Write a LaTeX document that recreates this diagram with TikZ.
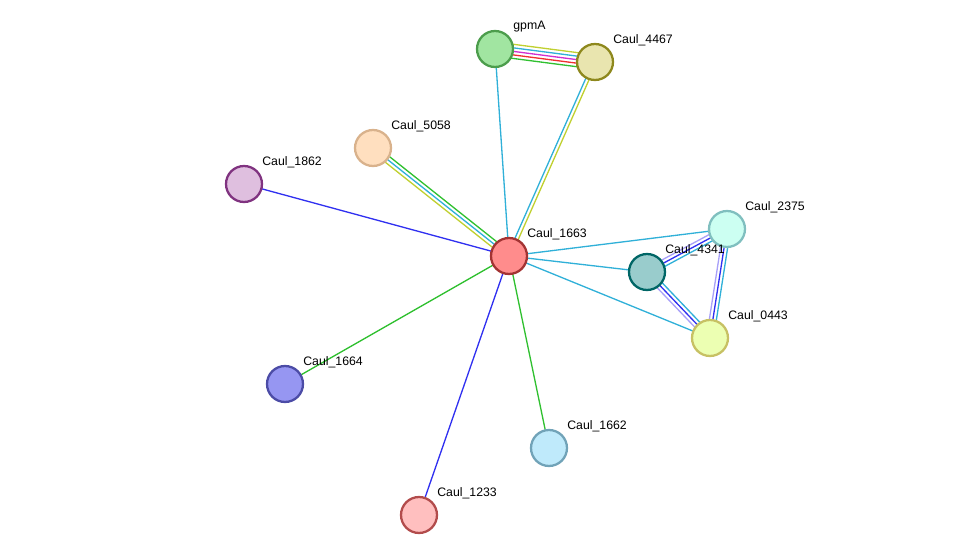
\documentclass[tikz,border=0pt]{standalone}
\usepackage{fontspec}
\setmainfont{Liberation Sans}
\usetikzlibrary{calc}
\definecolor{ecyan}{HTML}{30B0D8}
\definecolor{eblue}{HTML}{3030F0}
\definecolor{egreen}{HTML}{30C030}
\definecolor{eyellow}{HTML}{C0D030}
\definecolor{ered}{HTML}{F03030}
\definecolor{emag}{HTML}{D030D0}
\definecolor{elav}{HTML}{A8A0F8}
\newcommand{\protnode}[5]{%
  \node[prot, fill=#4, draw=#5] (#1) at (#2) {};
  \node[lbl] at ($(#1)+(18,-22)$) {#3};}
\newcommand{\multiedge}[3]{%
  \foreach \o/\c in {#3}
    \draw[\c, line width=0.75pt] ($(#1)!\o pt!90:(#2)$) -- ($(#2)!\o pt!-90:(#1)$);}
\begin{document}
\begin{tikzpicture}[x=0.02cm, y=-0.02cm,
    prot/.style={circle, minimum size=0.72cm, line width=1.3pt, inner sep=0pt},
    lbl/.style={anchor=west, font=\fontsize{7}{8}\selectfont, inner sep=0pt}]
  \useasboundingbox (0,0) rectangle (975,560);
  % node positions
  \coordinate (p_gpmA) at (495,49);
  \coordinate (p_4467) at (595,62);
  \coordinate (p_5058) at (373,148);
  \coordinate (p_1862) at (244,184);
  \coordinate (p_1663) at (509,256);
  \coordinate (p_2375) at (727,229);
  \coordinate (p_4341) at (647,272);
  \coordinate (p_0443) at (710,338);
  \coordinate (p_1664) at (285,384);
  \coordinate (p_1662) at (549,448);
  \coordinate (p_1233) at (419,515);

  % edges
  \multiedge{p_gpmA}{p_4467}{-4/egreen, -2/ered, 0/emag, 2/ecyan, 4/eyellow}
  \multiedge{p_gpmA}{p_1663}{0/ecyan}
  \multiedge{p_4467}{p_1663}{-1/ecyan, 1/eyellow}
  \multiedge{p_5058}{p_1663}{-2/eyellow, 0/ecyan, 2/egreen}
  \multiedge{p_1862}{p_1663}{0/eblue}
  \multiedge{p_1664}{p_1663}{0/egreen}
  \multiedge{p_1233}{p_1663}{0/eblue}
  \multiedge{p_1662}{p_1663}{0/egreen}
  \multiedge{p_2375}{p_1663}{0/ecyan}
  \multiedge{p_4341}{p_1663}{0/ecyan}
  \multiedge{p_0443}{p_1663}{0/ecyan}
  \multiedge{p_4341}{p_2375}{-2/ecyan, 0/eblue, 2/elav}
  \multiedge{p_4341}{p_0443}{-2/elav, 0/eblue, 2/ecyan}
  \multiedge{p_2375}{p_0443}{-2/elav, 0/eblue, 2/ecyan}

  % proteins
  \protnode{gpmA}{p_gpmA}{gpmA}{green!30!white!90!black}{green!45!black!70}
  \protnode{c4467}{p_4467}{Caul\_4467}{yellow!55!gray!45}{olive!80!gray}
  \protnode{c5058}{p_5058}{Caul\_5058}{orange!25}{brown!60!white}
  \protnode{c1862}{p_1862}{Caul\_1862}{violet!25}{violet!60!gray}
  \protnode{c1663}{p_1663}{Caul\_1663}{red!45}{red!55!black!80}
  \protnode{c2375}{p_2375}{Caul\_2375}{green!25!cyan!20}{teal!50!white}
  \protnode{c4341}{p_4341}{Caul\_4341}{teal!40!white}{teal!80!black}
  \protnode{c0443}{p_0443}{Caul\_0443}{lime!30}{olive!50!white}
  \protnode{c1664}{p_1664}{Caul\_1664}{blue!40!white!90!gray}{blue!50!black!70}
  \protnode{c1662}{p_1662}{Caul\_1662}{cyan!25}{cyan!40!gray}
  \protnode{c1233}{p_1233}{Caul\_1233}{red!25}{red!40!gray}
\end{tikzpicture}
\end{document}
